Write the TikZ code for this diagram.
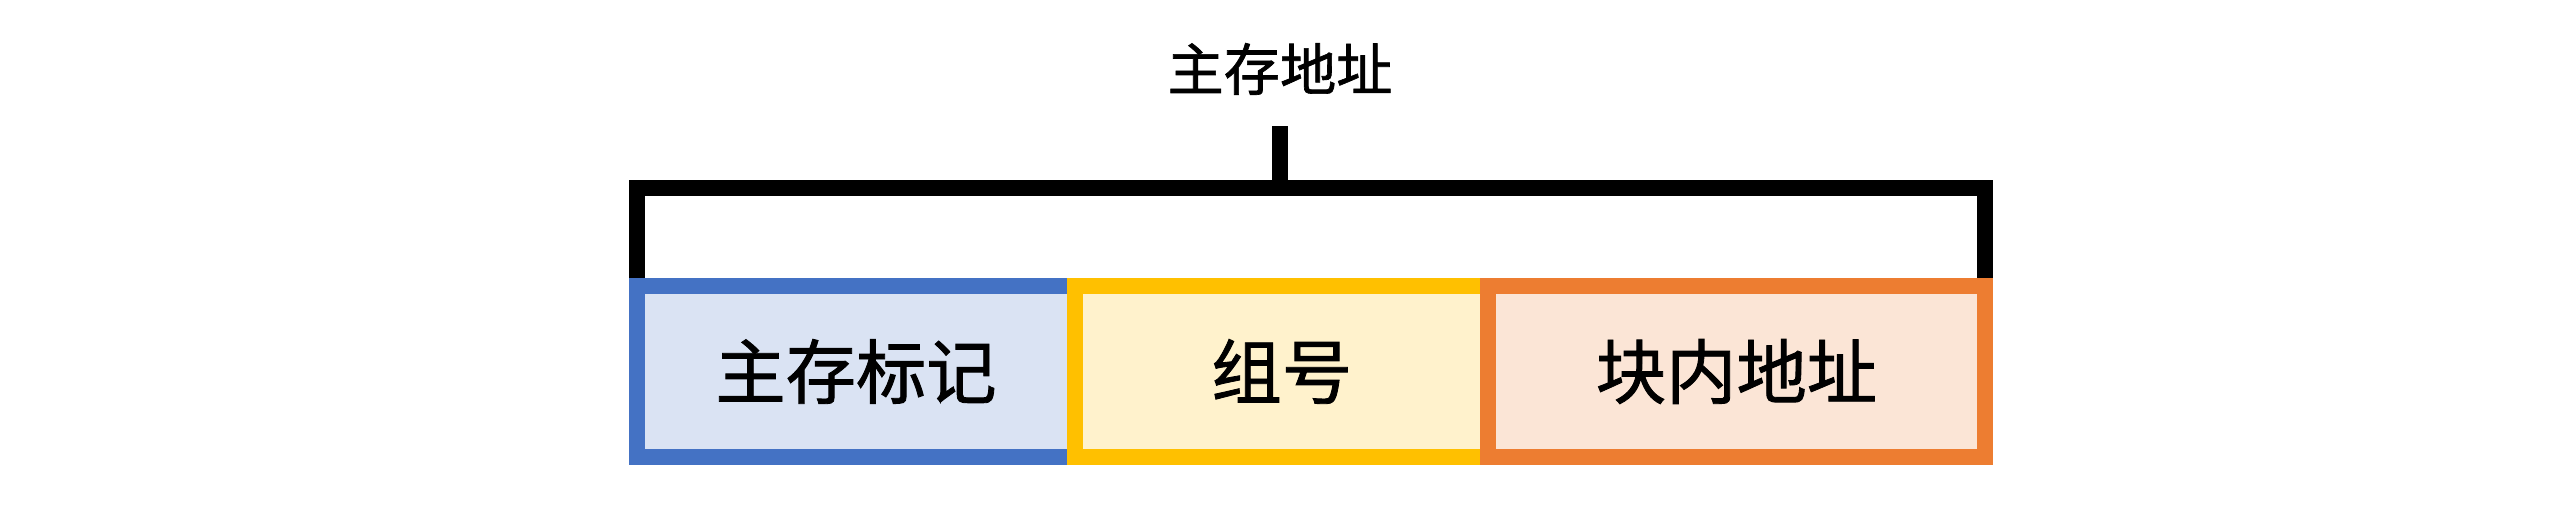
\documentclass[tikz,border=0pt]{standalone}
\usepackage{fontspec}
\newfontfamily\cjk{Noto Sans CJK SC}[FakeBold=1.2]
\usepackage{xcolor}
\usetikzlibrary{positioning,backgrounds}
\definecolor{tagline}{HTML}{4472C4}
\definecolor{tagfill}{HTML}{DAE3F3}
\definecolor{setline}{HTML}{FFC000}
\definecolor{setfill}{HTML}{FFF2CC}
\definecolor{offline}{HTML}{ED7D31}
\definecolor{offfill}{HTML}{FBE5D6}

\begin{document}
\begin{tikzpicture}[x=0.01cm,y=-0.01cm,
    field/.style={draw,line width=0.16cm,inner sep=0pt,outer sep=0pt,
      minimum height=1.71cm,font=\cjk\fontsize{20}{24}\selectfont},
    bracket/.style={line width=0.16cm}]
  \useasboundingbox (0,0) rectangle (2560,509);
  % the three fields of the address
  \node[field,draw=tagline,fill=tagfill,minimum width=4.38cm] (tag) at (856,371.5) {主存标记};
  \node[field,draw=setline,fill=setfill,minimum width=4.13cm,right=0pt of tag] (set) {组号};
  \node[field,draw=offline,fill=offfill,minimum width=4.96cm,right=0pt of set] (off) {块内地址};
  % bracket over the whole address
  \coordinate (brace) at (1280,188);
  \coordinate (tip) at (1280,126);
  \node[font=\cjk\fontsize{16}{19}\selectfont] (addr) at (1280,69) {主存地址};
  \begin{scope}[on background layer]
    \draw[bracket] (tag.north west) |- (brace) -| (off.north east);
    \draw[bracket] (brace) -- (tip);
  \end{scope}
\end{tikzpicture}
\end{document}
